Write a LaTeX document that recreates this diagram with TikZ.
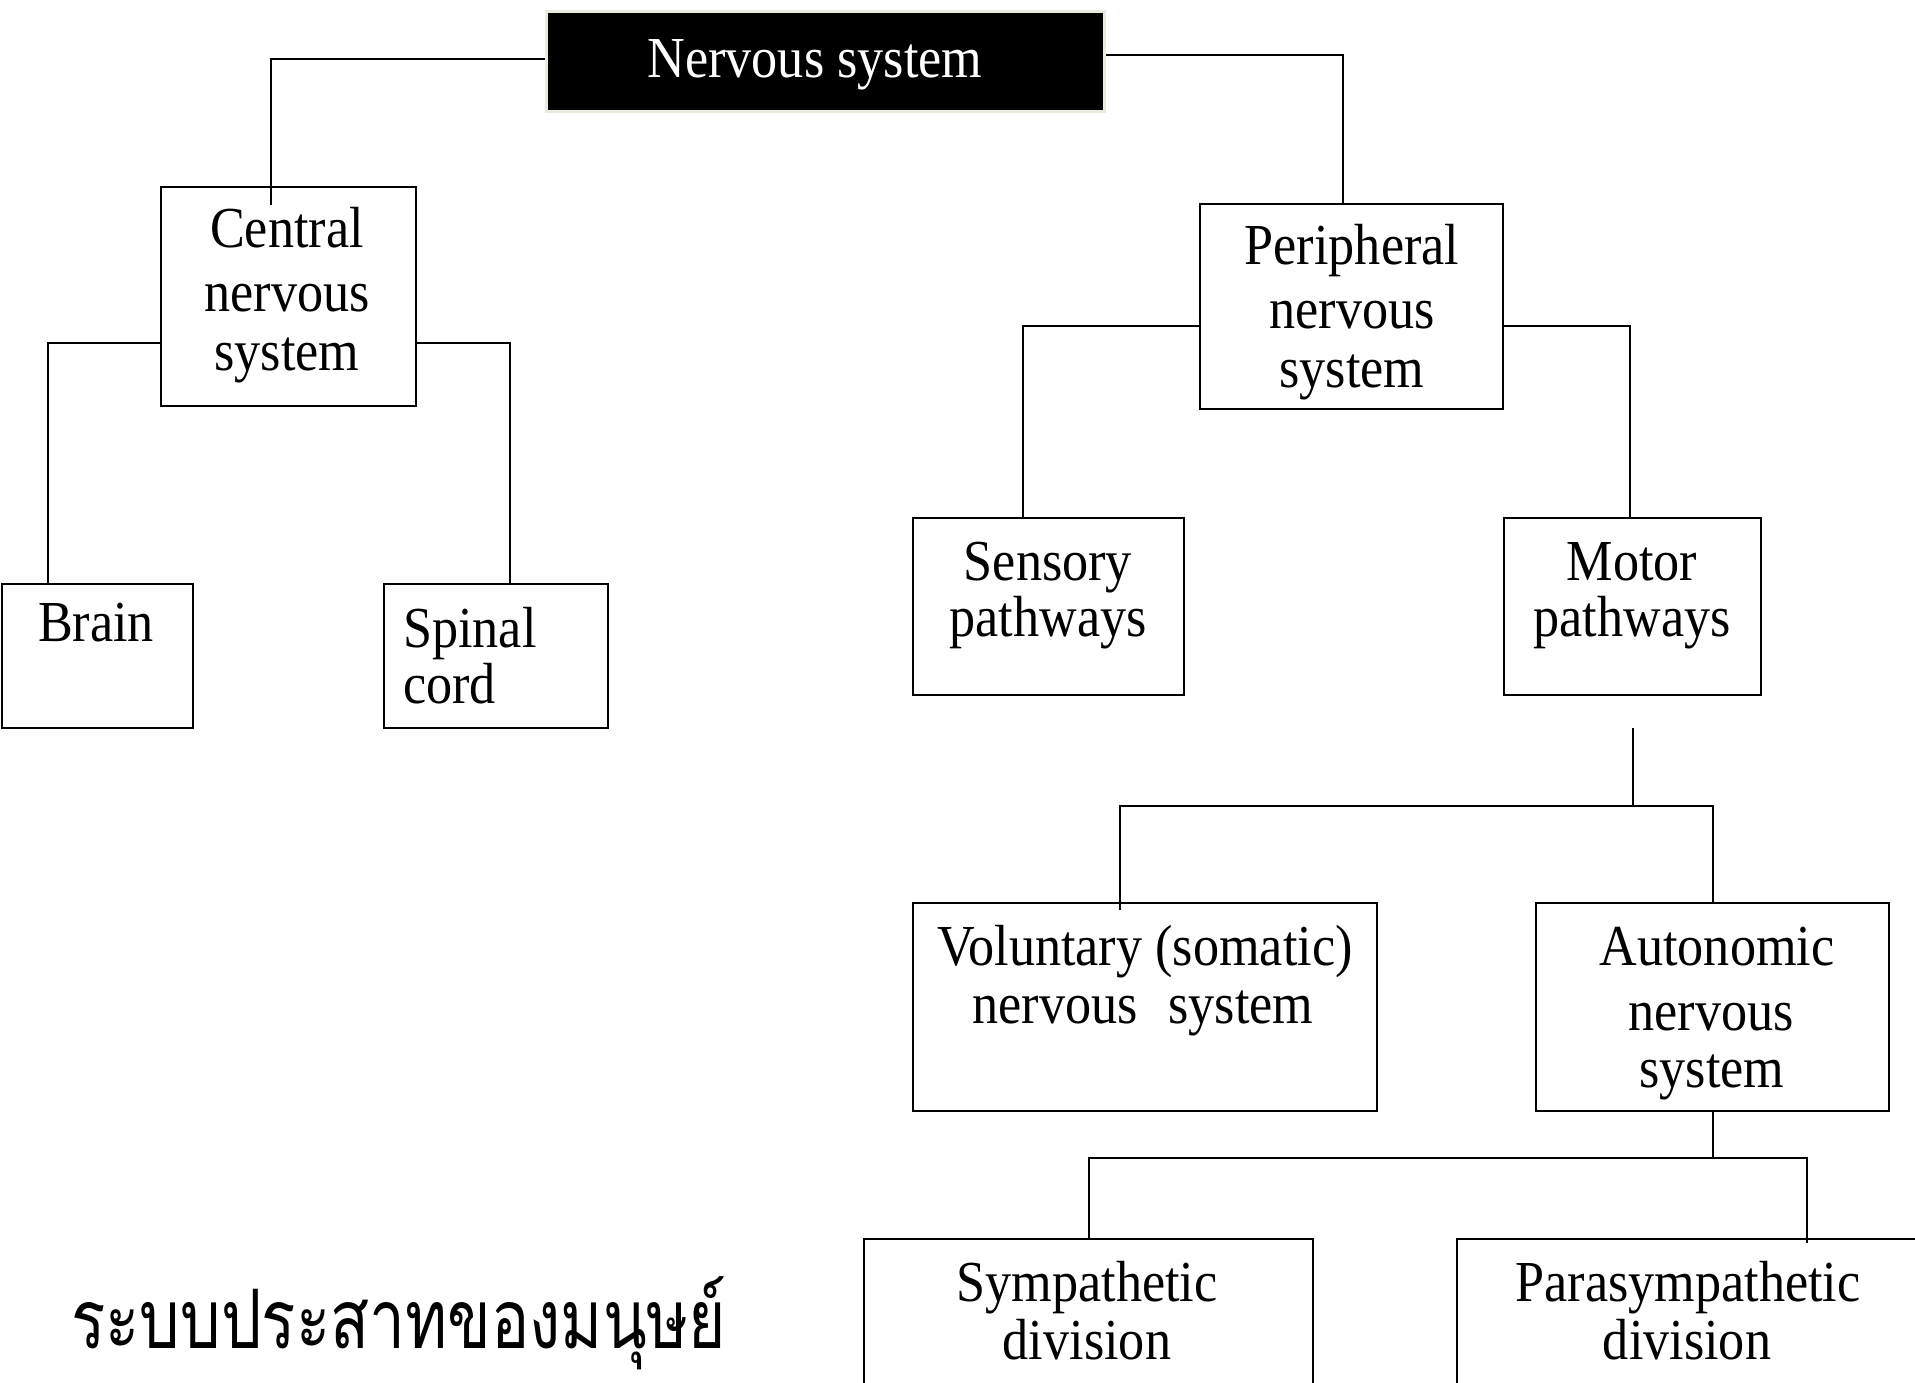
\documentclass[tikz,border=0pt]{standalone}
\usepackage{fontspec}
\setmainfont{Liberation Serif}[FakeStretch=0.9]
\newfontfamily\thaifont[Script=Thai,FakeStretch=0.78]{Loma}
\begin{document}
\begin{tikzpicture}[x=1pt,y=-1pt,
  box/.style={draw,line width=2pt,rectangle,inner sep=0pt,anchor=north west},
  conn/.style={line width=2pt},
  lbl/.style={font=\fontsize{58}{60}\selectfont,inner sep=0pt,anchor=base}]
\useasboundingbox (0,0) rectangle (1915,1383);
% boxes
\node[box,fill=black,draw={rgb,255:red,236;green,234;blue,222},line width=3pt,minimum width=558pt,minimum height=100pt] (ns) at (545,10) {};
\node[box,minimum width=255pt,minimum height=219pt] (cns) at (160,186) {};
\node[box,minimum width=191pt,minimum height=144pt] (brain) at (1,583) {};
\node[box,minimum width=224pt,minimum height=144pt] (spinal) at (383,583) {};
\node[box,minimum width=303pt,minimum height=205pt] (pns) at (1199,203) {};
\node[box,minimum width=271pt,minimum height=177pt] (sens) at (912,517) {};
\node[box,minimum width=257pt,minimum height=177pt] (motor) at (1503,517) {};
\node[box,minimum width=464pt,minimum height=208pt] (vol) at (912,902) {};
\node[box,minimum width=353pt,minimum height=208pt] (auto) at (1535,902) {};
\node[box,minimum width=449pt,minimum height=170pt] (symp) at (863,1238) {};
\node[box,minimum width=480pt,minimum height=170pt] (para) at (1456,1238) {};
% texts
\node[lbl,text=white] (tns) at (815,78) {Nervous system};
\node[lbl] (tc1) at (287,248) {Central};
\node[lbl] (tc2) at (287,311) {nervous};
\node[lbl] (tc3) at (287,370) {system};
\node[lbl] (tb) at (96,641) {Brain};
\node[lbl,anchor=base west] (ts1) at (403,647) {Spinal};
\node[lbl,anchor=base west] (ts2) at (403,703) {cord};
\node[lbl] (tp1) at (1352,265) {Peripheral};
\node[lbl] (tp2) at (1352,328) {nervous};
\node[lbl] (tp3) at (1352,387) {system};
\node[lbl] (tse1) at (1048,580) {Sensory};
\node[lbl] (tse2) at (1048,636) {pathways};
\node[lbl] (tm1) at (1632,580) {Motor};
\node[lbl] (tm2) at (1632,636) {pathways};
\node[lbl] (tv1) at (1145,965) {Voluntary (somatic)};
\node[lbl] (tv2) at (1143,1023) {nervous\hspace{0.3em} system};
\node[lbl] (ta1) at (1717,965) {Autonomic};
\node[lbl] (ta2) at (1711,1030) {nervous};
\node[lbl] (ta3) at (1712,1087) {system};
\node[lbl] (tsy1) at (1087,1301) {Sympathetic};
\node[lbl] (tsy2) at (1087,1359) {division};
\node[lbl] (tpa1) at (1688,1301) {Parasympathetic};
\node[lbl] (tpa2) at (1687,1359) {division};
\node[inner sep=0pt,anchor=base west,font=\fontsize{82}{82}\selectfont\thaifont] (thai) at (71,1348) {ระบบประสาทของมนุษย์};
% connector ends
\coordinate (cnsIn) at (271,205);
\coordinate (pnsIn) at (1343,205);
\coordinate (volIn) at (1120,910);
\coordinate (paraIn) at (1807,1243);
% connectors
\draw[conn] (ns.west |- 0,59) -| (cnsIn);
\draw[conn] (ns.east |- 0,55) -| (pnsIn);
\draw[conn] (cns.west |- 0,343) -| (brain.north -| 48,0);
\draw[conn] (cns.east |- 0,343) -| (spinal.north -| 510,0);
\draw[conn] (pns.west |- 0,326) -| (sens.north -| 1023,0);
\draw[conn] (pns.east |- 0,326) -| (motor.north -| 1630,0);
\draw[conn] (motor.south |- 0,728) -- (motor.south |- 0,806);
\draw[conn] (volIn) |- (auto.north |- 0,806) -- (auto.north);
\draw[conn] (auto.south) -- (auto.south |- 0,1158);
\draw[conn] (symp.north) |- (paraIn |- 0,1158) -- (paraIn);
\end{tikzpicture}
\end{document}
